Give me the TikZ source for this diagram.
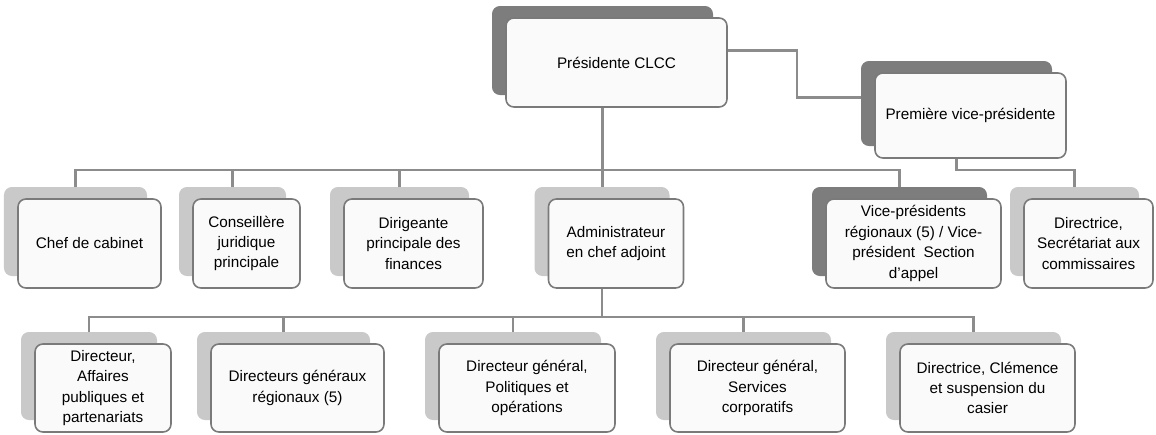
\documentclass[tikz,border=0pt]{standalone}
\usepackage{fontspec}
\setmainfont{Liberation Sans}
\usetikzlibrary{calc}
\definecolor{boxline}{HTML}{7A7A7A}
\definecolor{linkgray}{HTML}{8C8C8C}
\definecolor{shdark}{HTML}{7D7D7D}
\definecolor{shlight}{HTML}{C9C9C9}
\definecolor{cardfill}{HTML}{FAFAFA}
\tikzset{
  card/.style={draw=boxline, line width=0.9pt, rounded corners=4.5pt, fill=cardfill,
    align=center, inner sep=0pt, font=\fontsize{8.7}{11.6}\selectfont},
  darkback/.style={fill=shdark, rounded corners=4.5pt, inner sep=0pt},
  lightback/.style={fill=shlight, rounded corners=4.5pt, inner sep=0pt},
  link/.style={draw=linkgray, line width=1.2pt}
}
\begin{document}
\begin{tikzpicture}
    \useasboundingbox (0,0) rectangle (23.12,-8.68);
    \coordinate (busA) at (0,-3.40);
    \coordinate (busB) at (0,-6.34);

    % top
    \node[darkback, minimum width=4.42cm, minimum height=1.78cm] (presS) at (12.05,-1.01) {};
    \node[card, minimum width=4.42cm, minimum height=1.78cm] (pres) at ($(presS)+(0.28,-0.24)$) {Présidente CLCC};
    \node[darkback, minimum width=3.82cm, minimum height=1.70cm] (firstS) at (19.13,-2.07) {};
    \node[card, minimum width=3.82cm, minimum height=1.70cm] (first) at ($(firstS)+(0.28,-0.24)$) {Première vice-présidente};

    % second row
    \node[lightback, minimum width=2.86cm, minimum height=1.78cm] (chefS) at (1.51,-4.63) {};
    \node[card, minimum width=2.86cm, minimum height=1.78cm] (chef) at ($(chefS)+(0.28,-0.24)$) {Chef de cabinet};
    \node[lightback, minimum width=2.14cm, minimum height=1.78cm] (consS) at (4.65,-4.63) {};
    \node[card, minimum width=2.14cm, minimum height=1.78cm] (cons) at ($(consS)+(0.28,-0.24)$) {Conseillère\\juridique\\principale};
    \node[lightback, minimum width=2.78cm, minimum height=1.78cm] (dirS) at (7.99,-4.63) {};
    \node[card, minimum width=2.78cm, minimum height=1.78cm] (dir) at ($(dirS)+(0.28,-0.24)$) {Dirigeante\\principale des\\finances};
    \node[lightback, minimum width=2.70cm, minimum height=1.78cm] (admS) at (12.04,-4.63) {};
    \node[card, minimum width=2.70cm, minimum height=1.78cm] (adm) at ($(admS)+(0.28,-0.24)$) {Administrateur\\en chef adjoint};
    \node[darkback, minimum width=3.50cm, minimum height=1.78cm] (vpS) at (17.99,-4.63) {};
    \node[card, minimum width=3.50cm, minimum height=1.78cm] (vp) at ($(vpS)+(0.28,-0.24)$) {Vice-présidents\\régionaux (5) / Vice-\\président~ Section\\d’appel};
    \node[lightback, minimum width=2.58cm, minimum height=1.78cm] (dsecS) at (21.49,-4.63) {};
    \node[card, minimum width=2.58cm, minimum height=1.78cm] (dsec) at ($(dsecS)+(0.28,-0.24)$) {Directrice,\\Secrétariat aux\\commissaires};

    % third row
    \node[lightback, minimum width=2.72cm, minimum height=1.76cm] (dappS) at (1.78,-7.52) {};
    \node[card, minimum width=2.72cm, minimum height=1.76cm] (dapp) at ($(dappS)+(0.28,-0.24)$) {Directeur,\\Affaires\\publiques et\\partenariats};
    \node[lightback, minimum width=3.46cm, minimum height=1.76cm] (dgrS) at (5.67,-7.52) {};
    \node[card, minimum width=3.46cm, minimum height=1.76cm] (dgr) at ($(dgrS)+(0.28,-0.24)$) {Directeurs généraux\\régionaux (5)};
    \node[lightback, minimum width=3.52cm, minimum height=1.76cm] (dgpoS) at (10.26,-7.52) {};
    \node[card, minimum width=3.52cm, minimum height=1.76cm] (dgpo) at ($(dgpoS)+(0.28,-0.24)$) {Directeur général,\\Politiques et\\opérations};
    \node[lightback, minimum width=3.50cm, minimum height=1.76cm] (dgscS) at (14.87,-7.52) {};
    \node[card, minimum width=3.50cm, minimum height=1.76cm] (dgsc) at ($(dgscS)+(0.28,-0.24)$) {Directeur général,\\Services\\corporatifs};
    \node[lightback, minimum width=3.50cm, minimum height=1.76cm] (dcscS) at (19.47,-7.52) {};
    \node[card, minimum width=3.50cm, minimum height=1.76cm] (dcsc) at ($(dcscS)+(0.28,-0.24)$) {Directrice, Clémence\\et suspension du\\casier};

    % links
    \draw[link] (pres.east |- presS) -- ++(1.38,0) |- ($(firstS.west)+(0,0.12)$);
    \draw[link] (pres.south -| presS) -- (admS.north -| presS);
    \draw[link] (chefS.north) |- (vpS |- busA) -- (vpS.north);
    \draw[link] (consS.north) -- (consS |- busA);
    \draw[link] (dirS.north) -- (dirS |- busA);
    \draw[link] (first.south -| firstS) |- (dsecS |- busA) -- (dsecS.north);
    \draw[link] (adm.south -| admS) -- (admS |- busB);
    \draw[link] (dappS.north) |- (dcscS |- busB) -- (dcscS.north);
    \draw[link] (dgrS.north) -- (dgrS |- busB);
    \draw[link] (dgpoS.north) -- (dgpoS |- busB);
    \draw[link] (dgscS.north) -- (dgscS |- busB);
\end{tikzpicture}
\end{document}
